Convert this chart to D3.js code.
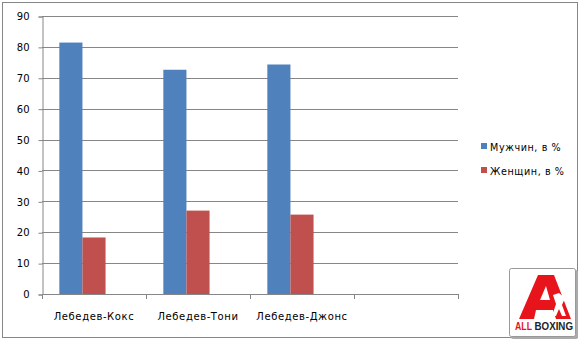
<!DOCTYPE html>
<html>
<head>
<meta charset="utf-8">
<script src="https://cdn.jsdelivr.net/npm/d3@7"></script>
<style>
  body { margin: 0; background: #fff; }
  text { font-family: "DejaVu Sans", Verdana, sans-serif; font-size: 10px; fill: #000; }
</style>
</head>
<body>
<svg width="581" height="341"></svg>
<script>
var categories = ["Лебедев-Кокс", "Лебедев-Тони", "Лебедев-Джонс", ""];
var seriesNames = ["Мужчин, в %", "Женщин, в %"];
var menValues = [81.4, 72.6, 74.3, null];
var womenValues = [18.3, 27.0, 25.7, null];
var yTicks = [0, 10, 20, 30, 40, 50, 60, 70, 80, 90];
var colors = ["#4F81BD", "#C0504D"];

var svg = d3.select("svg");

// outer chart frame
svg.append("rect")
    .attr("x", 2.5).attr("y", 2.5)
    .attr("width", 575).attr("height", 335)
    .attr("fill", "#fff")
    .attr("stroke", "#868686");

var plot = { left: 42, right: 458, top: 16, bottom: 294 };

var x0 = d3.scaleBand().domain(d3.range(categories.length))
    .range([plot.left, plot.right]).paddingInner(0).paddingOuter(0);

// third slot is an empty series, like the Excel original
var x1 = d3.scaleBand().domain([0, 1, 2])
    .range([0, x0.bandwidth()]).paddingInner(0).paddingOuter(0.75);

var y = d3.scaleLinear().domain([0, 90]).range([plot.bottom, plot.top]);

// gridlines
svg.append("g").selectAll("line")
    .data(yTicks.filter(function(d) { return d > 0; })).enter().append("line")
    .attr("x1", plot.left).attr("x2", plot.right)
    .attr("y1", function(d) { return Math.round(y(d)) + 0.5; })
    .attr("y2", function(d) { return Math.round(y(d)) + 0.5; })
    .attr("stroke", "#868686");

// bars
var data = [menValues, womenValues];
data.forEach(function(vals, si) {
  svg.append("g").selectAll("rect")
      .data(vals).enter()
      .filter(function(d) { return d != null; })
      .append("rect")
      .attr("x", function(d) { return x0(vals.indexOf(d)) + x1(si); })
      .attr("width", x1.bandwidth())
      .attr("y", function(d) { return y(d); })
      .attr("height", function(d) { return plot.bottom - y(d); })
      .attr("fill", colors[si]);
});

// y axis
var yAxis = d3.axisLeft(y).tickValues(yTicks).tickSize(4).tickPadding(9);
var gy = svg.append("g")
    .attr("transform", "translate(" + (plot.left + 0.5) + ",0.5)")
    .call(yAxis);
gy.select(".domain").attr("stroke", "#868686");
gy.selectAll(".tick line").attr("stroke", "#868686");
gy.selectAll(".tick text").style("font-family", "DejaVu Sans").style("font-size", "10px");

// x axis
var xAxisLine = svg.append("g");
xAxisLine.append("line")
    .attr("x1", plot.left).attr("x2", plot.right)
    .attr("y1", plot.bottom + 0.5).attr("y2", plot.bottom + 0.5)
    .attr("stroke", "#868686");
xAxisLine.selectAll(".xt")
    .data(d3.range(categories.length + 1)).enter().append("line")
    .attr("x1", function(d) { return Math.round(plot.left + d * x0.step()) + 0.5; })
    .attr("x2", function(d) { return Math.round(plot.left + d * x0.step()) + 0.5; })
    .attr("y1", plot.bottom).attr("y2", plot.bottom + 5)
    .attr("stroke", "#868686");

svg.append("g").selectAll("text")
    .data(categories).enter().append("text")
    .attr("x", function(d, i) { return x0(i) + x0.bandwidth() / 2; })
    .attr("y", 320)
    .attr("text-anchor", "middle")
    .style("letter-spacing", "0.6px")
    .text(function(d) { return d; });

// legend
var legend = svg.append("g").selectAll("g")
    .data(seriesNames).enter().append("g")
    .attr("transform", function(d, i) { return "translate(481," + (143 + i * 24) + ")"; });
legend.append("rect")
    .attr("width", 6).attr("height", 6)
    .attr("fill", function(d, i) { return colors[i]; });
legend.append("text")
    .attr("x", 9).attr("y", 7.5)
    .style("font-size", "9.6px")
    .style("letter-spacing", "0.6px")
    .text(function(d) { return d; });

// logo
var logo = svg.append("g").attr("transform", "translate(509,268)");
logo.append("rect").attr("x", 2).attr("y", 2).attr("width", 67).attr("height", 69)
    .attr("fill", "#aaa").attr("rx", 2);
logo.append("rect").attr("x", 0.5).attr("y", 0.5).attr("width", 66).attr("height", 68)
    .attr("fill", "#fff").attr("stroke", "#999").attr("rx", 2);
logo.append("path")
    .attr("fill-rule", "evenodd")
    .attr("d", "M29,7 L45,7 L62,51 L47,51 L44,42 L27,42 L25,51 L10,51 Z M31,32 L41,32 L37,18 Z")
    .attr("fill", "#e8141b");
logo.append("path")
    .attr("d", "M44,27 L50,25 L56,30 L53,37 L57,48 L53,48 L50,41 L47,48 L43,48 L47,36 Z")
    .attr("fill", "#fff");
logo.append("text").attr("x", 6).attr("y", 62)
    .attr("textLength", 17).attr("lengthAdjust", "spacingAndGlyphs")
    .style("font-family", "Liberation Sans").style("font-weight", "bold")
    .style("font-size", "11px").style("fill", "#e8141b")
    .text("ALL");
logo.append("text").attr("x", 25.5).attr("y", 62)
    .attr("textLength", 38.5).attr("lengthAdjust", "spacingAndGlyphs")
    .style("font-family", "Liberation Sans").style("font-weight", "bold")
    .style("font-size", "11px").style("fill", "#222")
    .text("BOXING");
</script>
</body>
</html>
